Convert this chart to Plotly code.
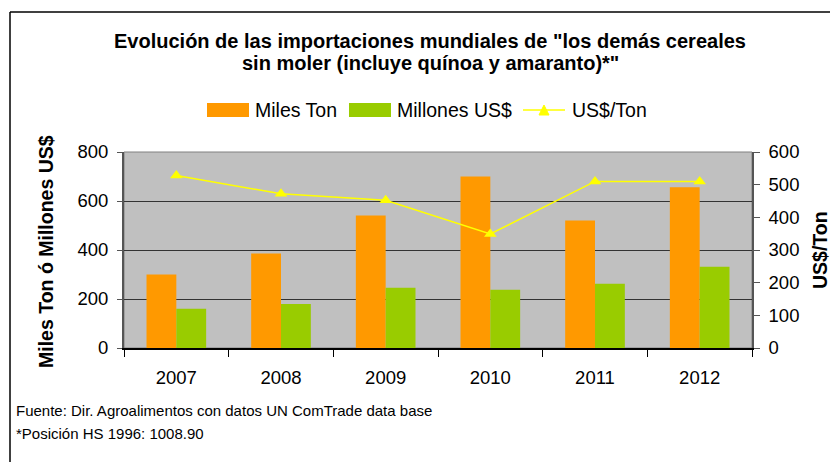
import plotly.graph_objects as go

years = ["2007", "2008", "2009", "2010", "2011", "2012"]
miles_ton = [300, 386, 541, 700, 520, 656]
millones_usd = [160, 180, 246, 238, 262, 332]
usd_ton = [528, 472, 452, 349, 510, 510]

names = ["Miles Ton", "Millones US$", "US$/Ton"]
title_lines = ["Evolución de las importaciones mundiales de \"los demás cereales",
               "sin moler (incluye quínoa y amaranto)*\""]
c_orange = "#FF9900"
c_green = "#99CC00"
c_yellow = "#FFFF00"

# page body has an 8px margin; figure is placed at (8, 8)
OFF = 8
WIN_W, WIN_H = 838, 462
W, H = WIN_W - OFF, WIN_H - OFF
L, R, T, B = 124, 752, 152, 348  # plot area in window pixels


def px(x):
    return (x - L) / (R - L)


def py(y):
    return (B - y) / (B - T)


FONT = "Liberation Sans, Arial, sans-serif"

fig = go.Figure()
fig.add_trace(go.Bar(x=years, y=miles_ton, name=names[0], marker_color=c_orange,
                     marker_line_width=0, showlegend=False))
fig.add_trace(go.Bar(x=years, y=millones_usd, name=names[1], marker_color=c_green,
                     marker_line_width=0, showlegend=False))
fig.add_trace(go.Scatter(x=years, y=usd_ton, name=names[2], yaxis="y2",
                         mode="lines+markers",
                         line=dict(color=c_yellow, width=1.5),
                         marker=dict(symbol="triangle-up", size=11, color=c_yellow),
                         showlegend=False))

shapes = []
annotations = []

# outer frame (left and top visible)
shapes.append(dict(type="line", xref="paper", yref="paper",
                   x0=px(10), x1=px(10), y0=py(12), y1=py(470),
                   line=dict(color="black", width=1.5)))
shapes.append(dict(type="line", xref="paper", yref="paper",
                   x0=px(10), x1=px(845), y0=py(12), y1=py(12),
                   line=dict(color="black", width=1.5)))
# plot area border
shapes.append(dict(type="rect", xref="paper", yref="paper",
                   x0=0, x1=1, y0=0, y1=1, layer="below",
                   line=dict(color="#808080", width=1)))

# manual legend
leg_y = 110
shapes.append(dict(type="rect", xref="paper", yref="paper",
                   x0=px(207), x1=px(249), y0=py(leg_y - 7), y1=py(leg_y + 7),
                   fillcolor=c_orange, line=dict(width=0)))
shapes.append(dict(type="rect", xref="paper", yref="paper",
                   x0=px(349), x1=px(391), y0=py(leg_y - 7), y1=py(leg_y + 7),
                   fillcolor=c_green, line=dict(width=0)))
shapes.append(dict(type="line", xref="paper", yref="paper",
                   x0=px(523), x1=px(565), y0=py(leg_y), y1=py(leg_y),
                   line=dict(color=c_yellow, width=1.5)))
shapes.append(dict(type="path", xref="paper", yref="paper",
                   path="M {} {} L {} {} L {} {} Z".format(
                       px(539), py(leg_y + 5), px(549), py(leg_y + 5), px(544), py(leg_y - 5)),
                   fillcolor=c_yellow, line=dict(color=c_yellow, width=1)))
for xpos, txt in [(253, names[0]), (395, names[1]), (570, names[2])]:
    annotations.append(dict(xref="paper", yref="paper", x=px(xpos), y=py(leg_y),
                            xanchor="left", yanchor="middle", showarrow=False,
                            text=txt, font=dict(size=19.5, color="black", family=FONT)))

# title (two lines)
for ypos, line in zip([41, 63], title_lines):
    annotations.append(dict(xref="paper", yref="paper", x=px(430), y=py(ypos),
                            xanchor="center", yanchor="middle", showarrow=False,
                            text="<b>" + line + "</b>",
                            font=dict(size=20, color="black", family=FONT)))
# axis titles
annotations.append(dict(xref="paper", yref="paper", x=px(46), y=py(252),
                        xanchor="center", yanchor="middle", showarrow=False, textangle=-90,
                        text="<b>Miles Ton ó Millones US$</b>",
                        font=dict(size=19.5, color="black", family=FONT)))
annotations.append(dict(xref="paper", yref="paper", x=px(820), y=py(250),
                        xanchor="center", yanchor="middle", showarrow=False, textangle=-90,
                        text="<b>US$/Ton</b>",
                        font=dict(size=19.5, color="black", family=FONT)))
# footer
annotations.append(dict(xref="paper", yref="paper", x=px(14), y=py(410),
                        xanchor="left", yanchor="middle", showarrow=False,
                        text="Fuente: Dir. Agroalimentos con datos UN ComTrade data base",
                        font=dict(size=15, color="black", family=FONT)))
annotations.append(dict(xref="paper", yref="paper", x=px(14), y=py(433),
                        xanchor="left", yanchor="middle", showarrow=False,
                        text="*Posición HS 1996: 1008.90",
                        font=dict(size=15, color="black", family=FONT)))

fig.update_layout(
    width=W, height=H,
    margin=dict(l=L - OFF, r=WIN_W - R, t=T - OFF, b=WIN_H - B, pad=0),
    paper_bgcolor="white",
    plot_bgcolor="#C0C0C0",
    barmode="group",
    bargap=0.43,
    bargroupgap=0,
    font=dict(family=FONT, size=18.5, color="black"),
    shapes=shapes,
    annotations=annotations,
    xaxis=dict(type="category", showgrid=False, ticks="outside", tickson="boundaries",
               ticklen=7, tickcolor="black", showline=True, linecolor="black", linewidth=1.5,
               tickfont=dict(size=18.5), zeroline=False, ticklabelstandoff=12),
    yaxis=dict(range=[0, 800], dtick=200, showgrid=True, gridcolor="#333333", gridwidth=1,
               ticks="outside", ticklen=5, tickcolor="#555555", showline=True,
               linecolor="#555555", linewidth=1.5, tickfont=dict(size=18.5),
               zeroline=False, ticksuffix=" "),
    yaxis2=dict(range=[0, 600], dtick=100, overlaying="y", side="right", showgrid=False,
                ticks="outside", ticklen=6, tickcolor="#555555", showline=True,
                linecolor="#555555", linewidth=1.5, tickfont=dict(size=18.5),
                zeroline=False, tickprefix=" "),
)

fig.write_html("out.html")
